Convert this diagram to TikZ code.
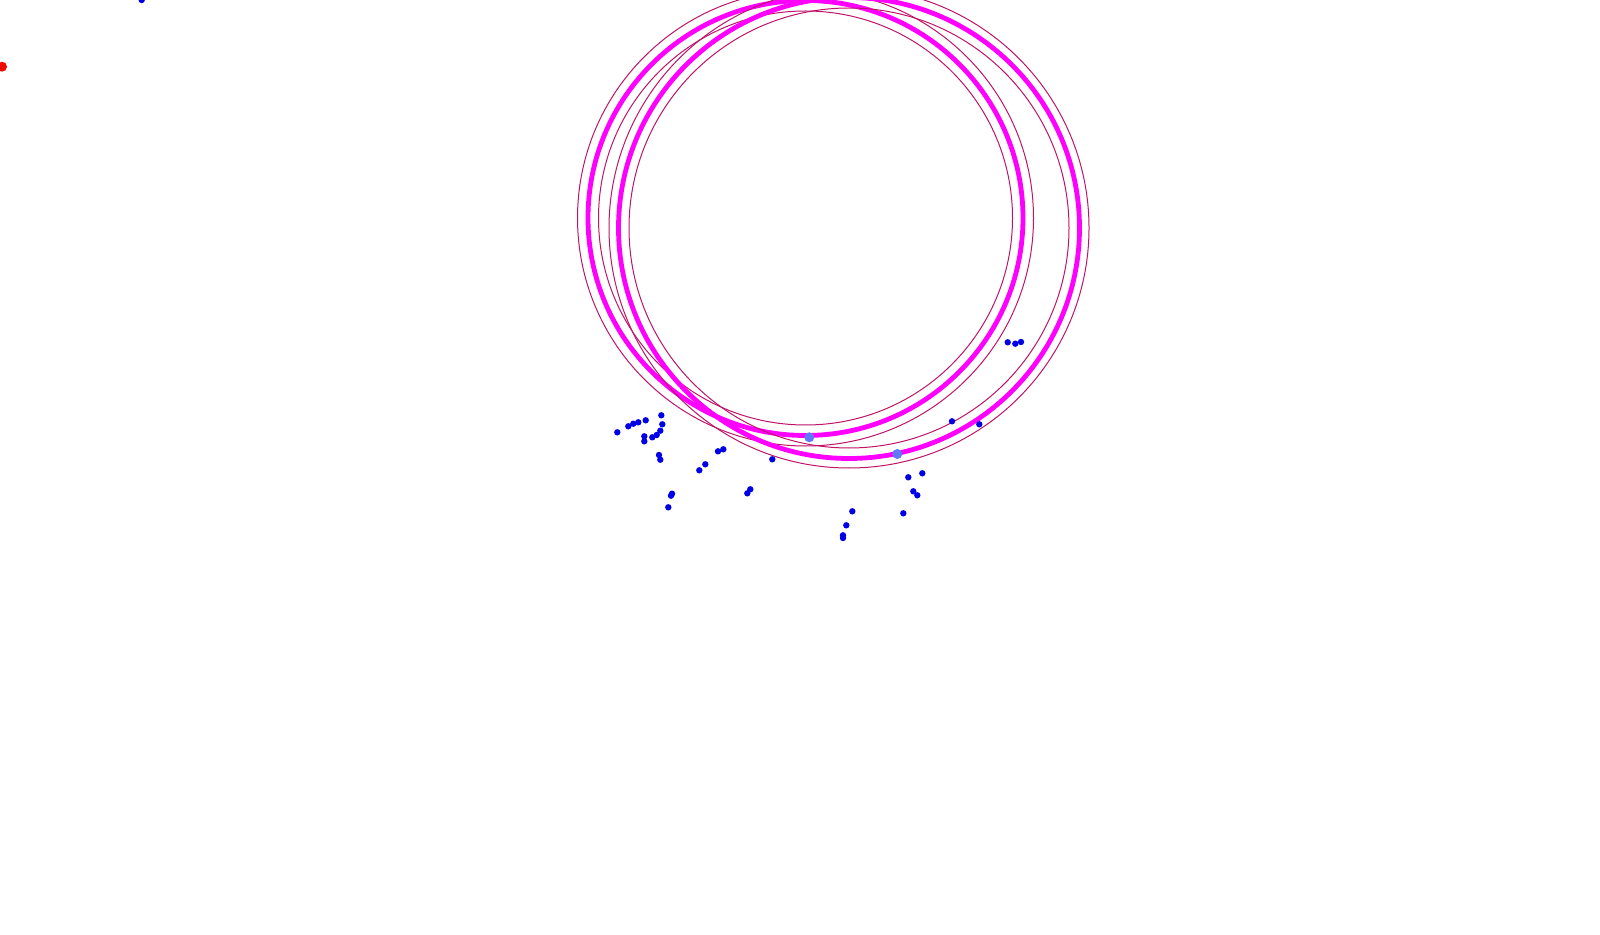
\documentclass[tikz,border=0pt]{standalone}
\usepackage{tikz}
\definecolor{ringthin}{RGB}{190,20,105}
\definecolor{ringthick}{RGB}{255,0,255}
\definecolor{ptblue}{RGB}{0,0,230}
\definecolor{ptlight}{RGB}{95,120,255}
\definecolor{ptred}{RGB}{240,10,0}
\tikzset{
  thinring/.style={draw=ringthin,line width=0.5pt},
  thickring/.style={draw=ringthick,line width=2.4pt},
  bluept/.style={fill=ptblue},
  lightpt/.style={fill=ptlight},
  redpt/.style={fill=ptred}
}
\begin{document}
\begin{tikzpicture}[x=0.5pt,y=-0.5pt]
\useasboundingbox (0,0) rectangle (1600,935);
\clip (0,0) rectangle (1600,935);
% ring 1
\coordinate (c1) at (805.5,218);
\draw[thinring] (c1) circle[radius=207];
\draw[thinring] (c1) circle[radius=228];
\draw[thickring] (c1) circle[radius=217.5];
% ring 2
\coordinate (c2) at (849,228);
\draw[thinring] (c2) circle[radius=220];
\draw[thinring] (c2) circle[radius=240];
\draw[thickring] (c2) circle[radius=230.5];
% points
\foreach \x/\y in {617.3/432.3,628.3/426.3,633.3/423.7,638.3/422.3,645.7/420.3,
  661.3/415.3,662.3/424.3,660.3/430.7,656.7/435,652.3/437.3,644.3/436.3,644.3/441.3,
  659/455,660.3/459.7,672/493.7,671/495.7,668.3/507.3,699.3/470.3,705.3/464.3,
  718/451.3,723.3/449.3,772.3/459.3,747.3/493.3,750.3/489.3,
  952/421.3,979.3/424.3,922.3/473.3,908.3/477.3,913.3/491.3,917.3/495.3,903.3/513.3,
  852.3/511.3,846.3/525.3,843/535.3,843/538,
  1007.7/342.3,1015.3/343.7,1021/342,141.7/0}
  \fill[bluept] (\x,\y) circle[radius=3.2];
\fill[lightpt] (809.3,437.3) circle[radius=5];
\fill[lightpt] (897.3,454) circle[radius=5];
\fill[redpt] (2,66.7) circle[radius=5];
\end{tikzpicture}
\end{document}
